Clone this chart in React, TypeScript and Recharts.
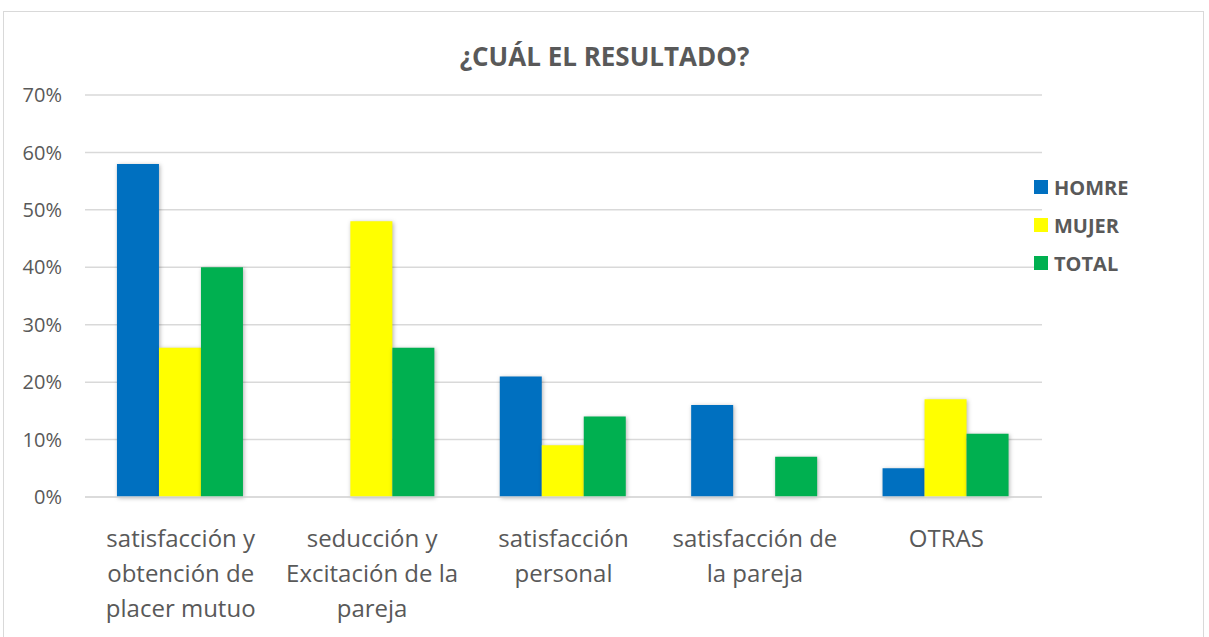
import { BarChart, Bar, XAxis, YAxis, CartesianGrid } from "recharts";

const categories = [
  "satisfacción y obtención de placer mutuo",
  "seducción y Excitación de la pareja",
  "satisfacción personal",
  "satisfacción de la pareja",
  "OTRAS",
];
const categoryLines = [
  ["satisfacción y", "obtención de", "placer mutuo"],
  ["seducción y", "Excitación de la", "pareja"],
  ["satisfacción", "personal"],
  ["satisfacción de", "la pareja"],
  ["OTRAS"],
];
const homre = [0.58, 0, 0.21, 0.16, 0.05];
const mujer = [0.26, 0.48, 0.09, 0, 0.17];
const total = [0.4, 0.26, 0.14, 0.07, 0.11];
const yTicks = [0, 0.1, 0.2, 0.3, 0.4, 0.5, 0.6, 0.7];

const SERIES = [
  { key: "HOMRE", color: "#0070C0" },
  { key: "MUJER", color: "#FFFF00" },
  { key: "TOTAL", color: "#00B050" },
];

const data = categories.map((name, i) => ({
  name,
  HOMRE: homre[i],
  MUJER: mujer[i],
  TOTAL: total[i],
}));

const FONT = "'Open Sans', sans-serif";
const TEXT = "#595959";

function CategoryTick({ x, y, index }: any) {
  const lines = categoryLines[index] ?? [];
  return (
    <g transform={`translate(${x},${y})`}>
      {lines.map((line, i) => (
        <text
          key={i}
          x={0}
          y={42 + i * 35}
          textAnchor="middle"
          fontFamily={FONT}
          fontSize={24}
          fill={TEXT}
        >
          {line}
        </text>
      ))}
    </g>
  );
}

function LegendBox() {
  return (
    <div style={{ position: "absolute", left: 1034, top: 168, fontFamily: FONT }}>
      {SERIES.map((s) => (
        <div key={s.key} style={{ display: "flex", alignItems: "center", height: 38 }}>
          <span style={{ width: 14, height: 14, background: s.color, marginRight: 6 }} />
          <span style={{ fontSize: 20, fontWeight: 700, color: TEXT }}>{s.key}</span>
        </div>
      ))}
    </div>
  );
}

export default function App() {
  return (
    <div style={{ position: "absolute", left: 0, top: 0, width: 1209, height: 637, background: "#fff", overflow: "hidden" }}>
      <div
        style={{
          position: "absolute",
          left: 3,
          top: 11,
          width: 1201,
          height: 640,
          border: "1px solid #D9D9D9",
          boxSizing: "border-box",
        }}
      />
      <div
        style={{
          position: "absolute",
          left: 0,
          width: 1209,
          top: 38,
          textAlign: "center",
          fontFamily: FONT,
          fontWeight: 700,
          fontSize: 26,
          color: TEXT,
        }}
      >
        ¿CUÁL EL RESULTADO?
      </div>
      <BarChart
        width={1209}
        height={637}
        data={data}
        margin={{ top: 95, right: 167, bottom: 0, left: 25 }}
        barCategoryGap="16.7%"
        barGap={0}
        style={{ position: "absolute", left: 0, top: 0 }}
      >
        <CartesianGrid vertical={false} stroke="#D9D9D9" strokeWidth={1.5} />
        <XAxis
          dataKey="name"
          axisLine={{ stroke: "#D9D9D9", strokeWidth: 1.5 }}
          tickLine={false}
          tick={<CategoryTick />}
          interval={0}
          height={140}
        />
        <YAxis
          width={60}
          domain={[0, 0.7]}
          ticks={yTicks}
          interval={0}
          axisLine={false}
          tickLine={false}
          tickSize={0}
          tickMargin={23}
          tickFormatter={(v: number) => `${Math.round(v * 100)}%`}
          tick={{ fontFamily: FONT, fontSize: 20, fill: TEXT }}
        />
        {SERIES.map((s) => (
          <Bar
            key={s.key}
            dataKey={s.key}
            fill={s.color}
            isAnimationActive={false}
            style={{ filter: "drop-shadow(1px 1px 2px rgba(0,0,0,0.3))" }}
          />
        ))}
      </BarChart>
      <LegendBox />
    </div>
  );
}
